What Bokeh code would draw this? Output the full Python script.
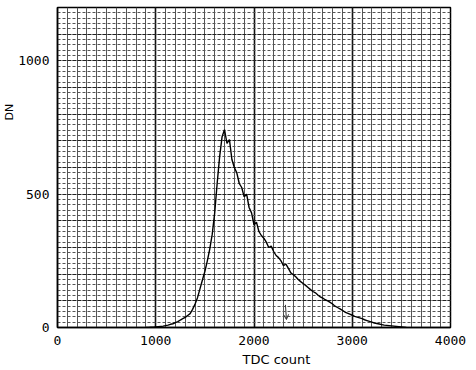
from bokeh.plotting import figure
from bokeh.models import Range1d, FixedTicker, Grid, Arrow, OpenHead, Title
from bokeh.embed import file_html
from bokeh.resources import INLINE

# histogram of TDC counts (bin centres) and number of events (DN)
tdc = [900, 925, 950, 975, 1000, 1025, 1050, 1075, 1100, 1125, 1150, 1175, 1200,
       1225, 1250, 1275, 1300, 1325, 1350, 1375, 1400, 1425, 1450, 1475, 1500,
       1525, 1550, 1575, 1600, 1625, 1650, 1675, 1700, 1725, 1750, 1775, 1800,
       1825, 1850, 1875, 1900, 1925, 1950, 1975, 2000, 2025, 2050, 2075, 2100,
       2125, 2150, 2175, 2200, 2225, 2250, 2275, 2300, 2325, 2350, 2375, 2400,
       2425, 2450, 2475, 2500, 2525, 2550, 2575, 2600, 2625, 2650, 2675, 2700,
       2725, 2750, 2775, 2800, 2825, 2850, 2875, 2900, 2925, 2950, 2975, 3000,
       3025, 3050, 3075, 3100, 3125, 3150, 3175, 3200, 3225, 3250, 3275, 3300,
       3325, 3350, 3375, 3400, 3425, 3450, 3475, 3500, 3525, 3550]
dn = [0, 0, 1, 1, 2, 3, 4, 5, 7, 9, 12, 14, 18,
      22, 28, 33, 38, 45, 52, 68, 88, 112, 145, 178, 210,
      250, 295, 350, 430, 540, 640, 715, 742, 690, 705, 630, 600,
      580, 540, 525, 490, 500, 450, 430, 385, 395, 360, 345, 335,
      320, 300, 305, 285, 270, 262, 250, 232, 238, 222, 205, 198,
      190, 180, 172, 165, 158, 150, 142, 135, 130, 122, 115, 110,
      104, 100, 94, 88, 80, 75, 70, 64, 58, 54, 50, 46,
      42, 39, 36, 33, 29, 26, 23, 20, 17, 15, 13, 11,
      9, 8, 7, 6, 5, 4, 3, 2, 1, 0]

x_ticks = [0, 1000, 2000, 3000, 4000]
y_ticks = [0, 500, 1000]
x_title = "TDC count"
y_title = "DN"

# pencil mark on the chart
mark_x = [2320, 2330]
mark_y = [85, 30]

p = figure(width=476, height=370, output_backend="svg", toolbar_location=None,
           x_range=Range1d(0, 4000), y_range=Range1d(0, 1200),
           min_border_left=55, min_border_right=26, min_border_top=7,
           min_border_bottom=43, background_fill_color="white",
           border_fill_color="white")

p.xgrid.grid_line_color = None
p.ygrid.grid_line_color = None

# dense graph-paper grid
p.add_layout(Grid(dimension=0, ticker=FixedTicker(ticks=list(range(0, 4001, 100))),
                  grid_line_color="#555555", grid_line_width=1))
p.add_layout(Grid(dimension=0, ticker=FixedTicker(ticks=list(range(0, 4001, 1000))),
                  grid_line_color="#111111", grid_line_width=1.6))
p.add_layout(Grid(dimension=1, ticker=FixedTicker(ticks=list(range(0, 1201, 20))),
                  grid_line_color="#555555", grid_line_width=1, grid_line_dash="3 2"))
p.add_layout(Grid(dimension=1, ticker=FixedTicker(ticks=list(range(0, 1201, 100))),
                  grid_line_color="#222222", grid_line_width=1, grid_line_dash="4 1"))

p.line(tdc, dn, line_color="black", line_width=1.4)

p.add_layout(Arrow(x_start=mark_x[0], y_start=mark_y[0], x_end=mark_x[1], y_end=mark_y[1],
                   line_color="#333333", line_width=1,
                   end=OpenHead(size=5, line_color="#333333", line_width=1)))

p.xaxis.ticker = FixedTicker(ticks=x_ticks)
p.yaxis.ticker = FixedTicker(ticks=y_ticks)
for ax in (p.xaxis[0], p.yaxis[0]):
    ax.major_tick_line_color = None
    ax.minor_tick_line_color = None
    ax.axis_line_color = "black"
    ax.axis_line_width = 1.5
    ax.major_label_text_font = "DejaVu Sans Mono"
    ax.major_label_text_font_size = "13px"
    ax.major_label_text_color = "black"

p.xaxis.major_label_standoff = 2
p.yaxis.major_label_standoff = 2

# axis titles as side titles so they can be shifted like the original
p.add_layout(Title(text=x_title, align="left", offset=185, standoff=4,
                   text_font="DejaVu Sans", text_font_size="13px",
                   text_font_style="normal", text_color="black"), "below")
p.add_layout(Title(text=y_title, align="left", offset=207, standoff=0,
                   text_font="DejaVu Sans", text_font_size="11px",
                   text_font_style="normal", text_color="black"), "left")

p.outline_line_color = "black"
p.outline_line_width = 1.5

open("out.html", "w").write(file_html(p, INLINE))
